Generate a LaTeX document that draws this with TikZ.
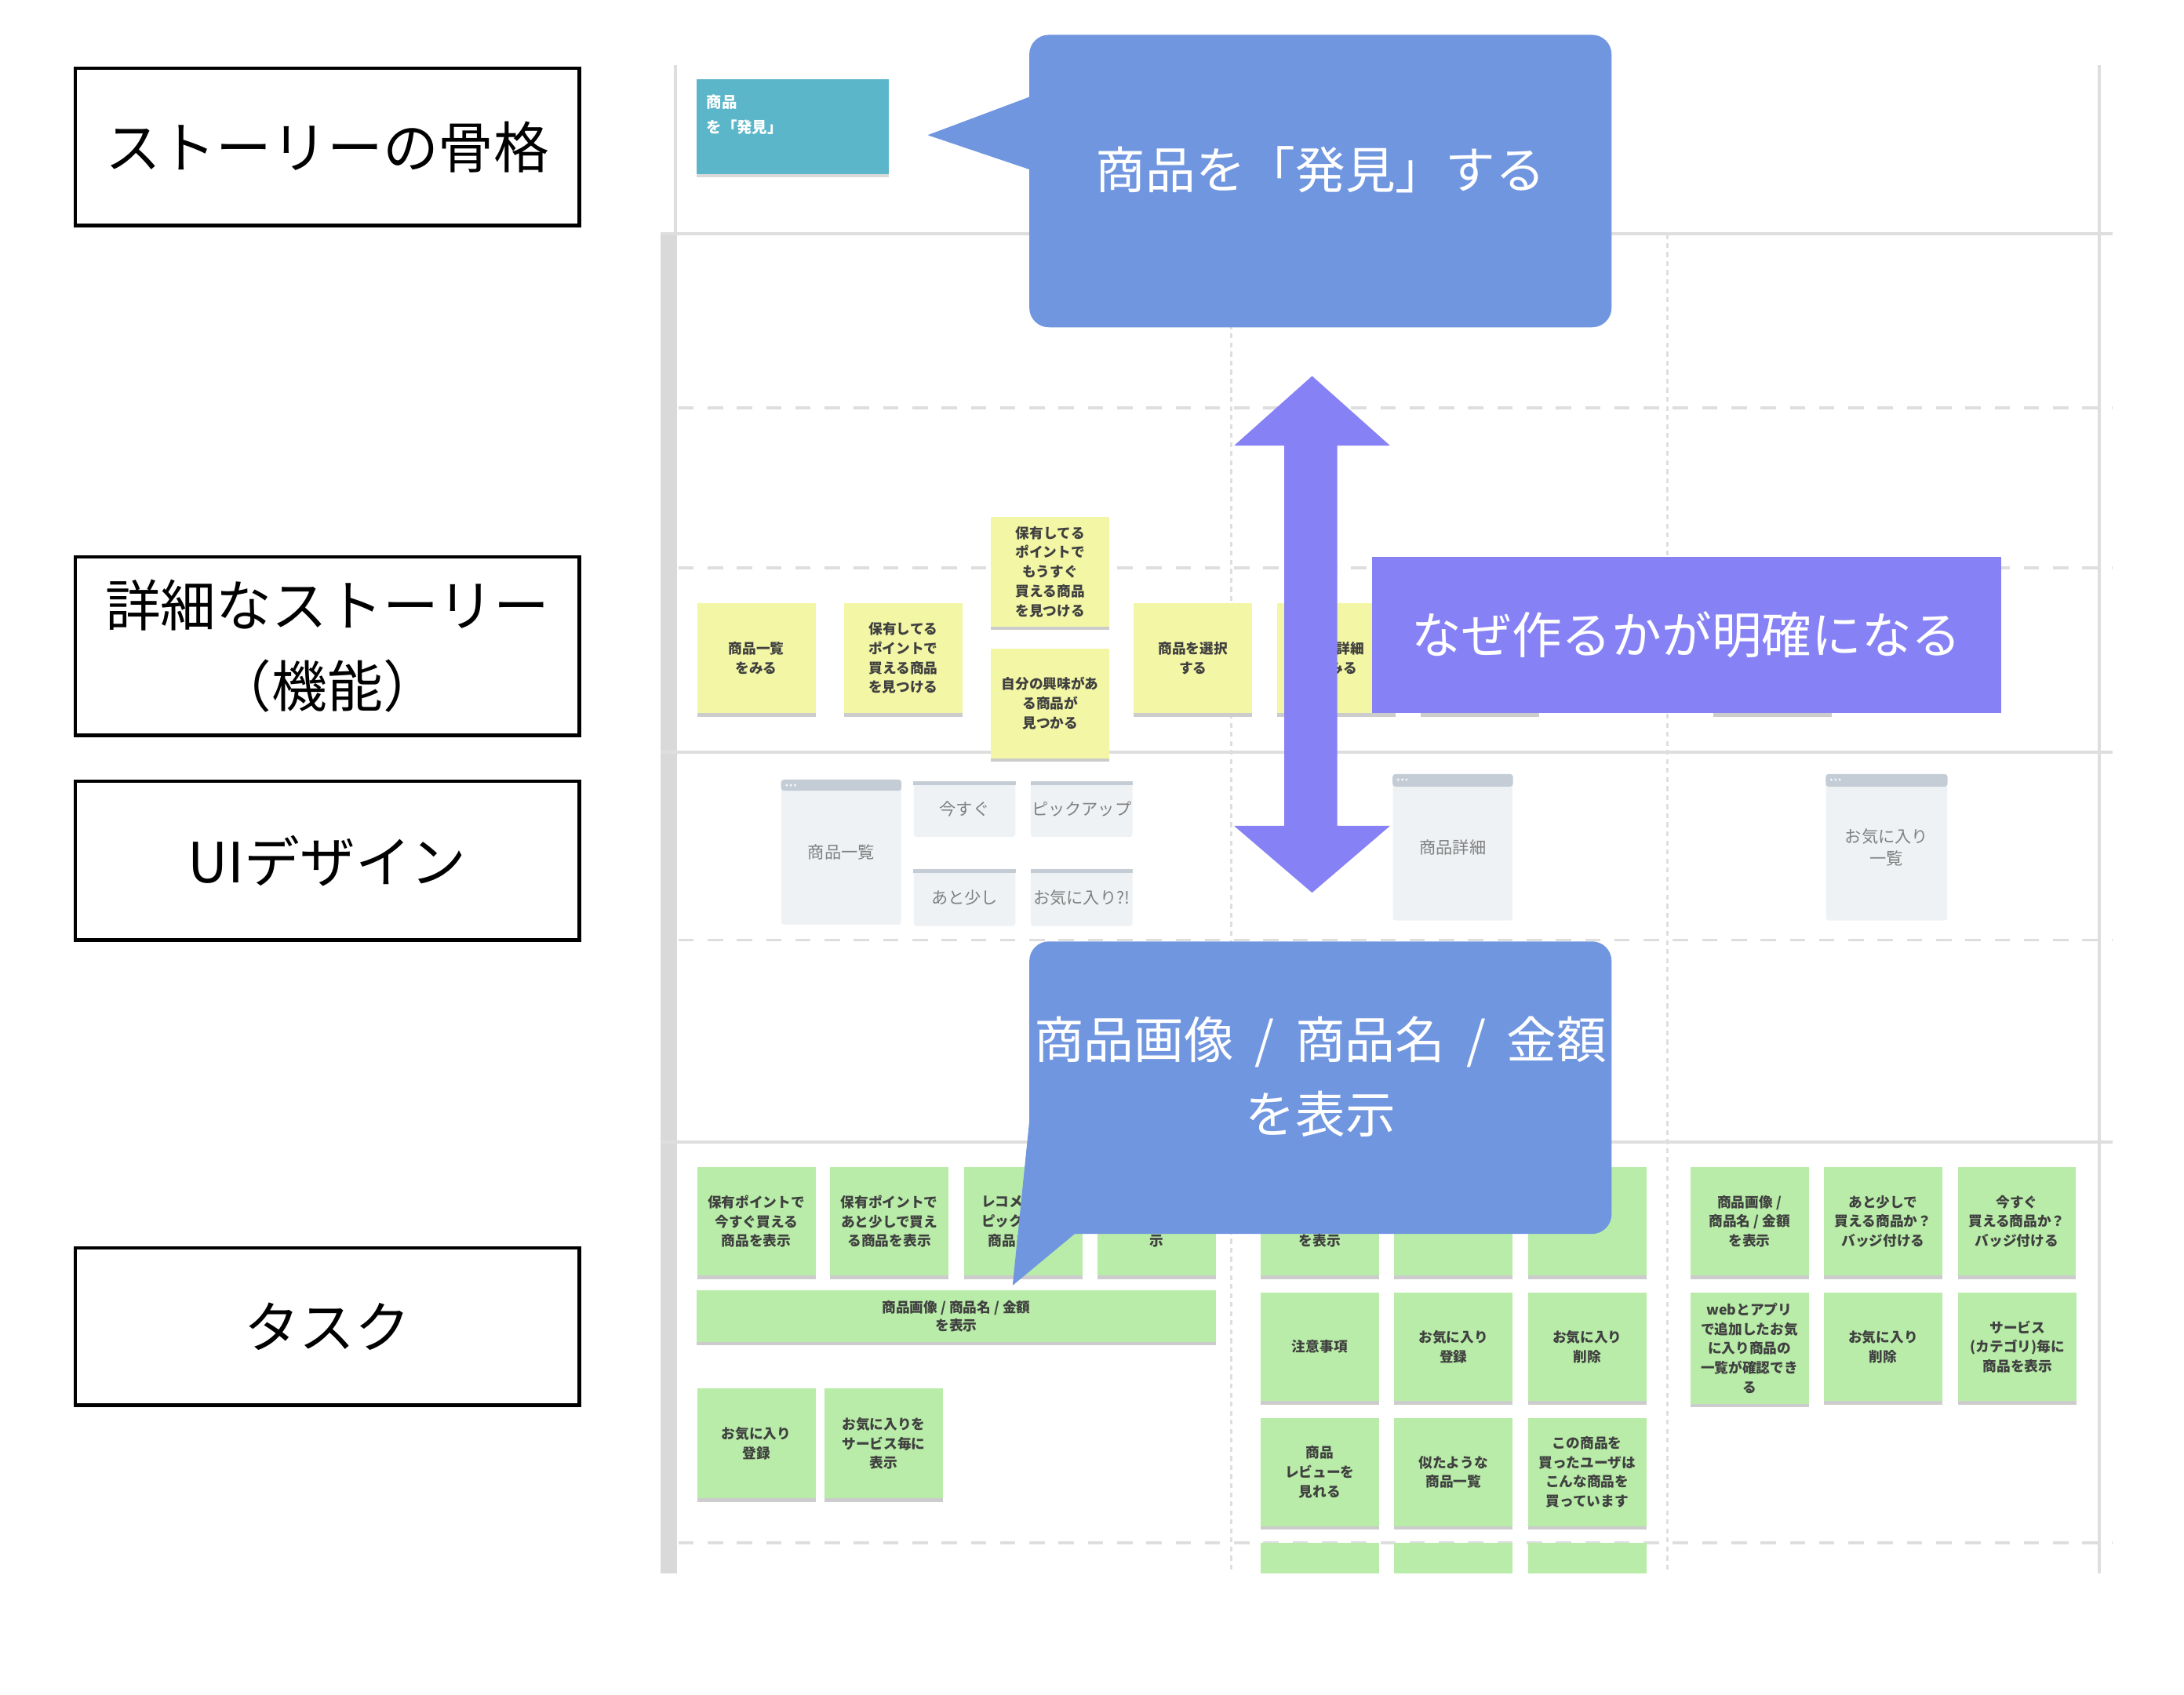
\documentclass[tikz,border=0pt]{standalone}
\usepackage{fontspec}
\setmainfont{Noto Sans CJK JP}
\usetikzlibrary{shadows}
\definecolor{cblue}{RGB}{112,150,224}
\definecolor{cpurple}{RGB}{134,130,245}
\definecolor{cteal}{RGB}{91,182,201}
\definecolor{cyellow}{RGB}{242,246,165}
\definecolor{cgreen}{RGB}{184,236,168}
\definecolor{wfill}{RGB}{239,242,245}
\definecolor{whead}{RGB}{196,205,214}
\definecolor{gridc}{RGB}{222,222,222}
\definecolor{barc}{RGB}{217,217,217}
\definecolor{stext}{RGB}{64,64,64}
\tikzset{
  labelbox/.style={draw=black, line width=2.5bp, minimum width=362bp, inner sep=0pt,
    align=center, font=\fontsize{40}{58}\selectfont},
  sticky/.style={inner sep=0pt, minimum width=85bp, minimum height=79bp, align=center,
    font=\bfseries\fontsize{10}{14}\selectfont, text=stext,
    general shadow={shadow xshift=0bp, shadow yshift=-2.5bp, fill=black!20}},
  ysticky/.style={sticky, fill=cyellow},
  gsticky/.style={sticky, fill=cgreen},
  wire/.style={fill=wfill, rounded corners=2bp, inner sep=0pt, text=black!50,
    align=center, font=\fontsize{12}{16}\selectfont},
  gridsolid/.style={draw=gridc, line width=2.2bp},
  griddash/.style={draw=gridc, line width=2.2bp, dash pattern=on 11bp off 10bp},
  griddot/.style={draw=gridc, line width=1.4bp, dash pattern=on 3.5bp off 3bp},
  calloutbox/.style={fill=cblue, rounded corners=14bp, inner sep=0pt},
  calltext/.style={text=white, align=center, font=\fontsize{36}{54}\selectfont},
  sticktext/.style={inner sep=0pt, font=\bfseries\fontsize{10}{14}\selectfont, text=stext},
}
\newcommand{\slashgap}{\hspace{0.42em}/\hspace{0.42em}}
\begin{document}
\begin{tikzpicture}[x=1bp,y=-1bp]
\useasboundingbox (0,0) rectangle (1568,1217);
\fill[white] (0,0) rectangle (1568,1217);

% ---- left labels
\node[labelbox, minimum height=113bp] (l1) at (235,105.5) {ストーリーの骨格};
\node[labelbox, minimum height=128bp] (l2) at (235,464) {詳細なストーリー\\（機能）};
\node[labelbox, minimum height=114bp] (l3) at (235,618) {UIデザイン};
\node[labelbox, minimum height=113bp] (l4) at (235,952.5) {タスク};

% ---- board grid
\draw[gridsolid] (485,47) -- (485,168);
\fill[barc] (474,168) rectangle (486,1130);
\draw[gridsolid] (1507,47) -- (1507,1130);
\foreach \yy in {168,540,820} \draw[gridsolid] (474,\yy) -- (1517,\yy);
\foreach \yy in {293,408,675,1108} \draw[griddash] (487,\yy) -- (1517,\yy);
\draw[griddot] (884,168) -- (884,1130);
\draw[griddot] (1197,168) -- (1197,1130);

% ---- backbone sticky
\node[fill=cteal, inner sep=0pt, minimum width=138bp, minimum height=68bp,
  general shadow={shadow xshift=0bp, shadow yshift=-2bp, fill=black!15}] (t1) at (569,91) {};
\node[anchor=north west, inner sep=0pt, align=left, text=white,
  font=\bfseries\fontsize{11}{18}\selectfont] (t1t) at (507,68) {商品\\を「発見」};

% ---- detailed stories (yellow)
\node[ysticky] (s1) at (543,472.5) {商品一覧\\をみる};
\node[ysticky] (s2) at (648.5,472.5) {保有してる\\ポイントで\\買える商品\\を見つける};
\node[ysticky] (s3) at (754,410.5) {保有してる\\ポイントで\\もうすぐ\\買える商品\\を見つける};
\node[ysticky] (s4) at (754,505) {自分の興味があ\\る商品が\\見つかる};
\node[ysticky] (s5) at (856.5,472.5) {商品を選択\\する};
\node[ysticky] (s6) at (959.5,472.5) {商品詳細\\をみる};
\node[ysticky] (s7) at (1062.5,472.5) {};
\node[ysticky] (s8) at (1272.5,472.5) {};

% ---- UI wireframes
\node[wire, minimum width=86bp, minimum height=104bp] (w1) at (604,612) {商品一覧};
\fill[whead, rounded corners=2bp] (w1.north west) rectangle ([yshift=-8bp]w1.north east);
\node[wire, minimum width=73bp, minimum height=40bp] (w2) at (692.5,581) {今すぐ};
\fill[whead] (w2.north west) rectangle ([yshift=-3bp]w2.north east);
\node[wire, minimum width=73bp, minimum height=40bp] (w3) at (776.5,581) {ピックアップ};
\fill[whead] (w3.north west) rectangle ([yshift=-3bp]w3.north east);
\node[wire, minimum width=73bp, minimum height=41bp] (w4) at (692.5,644.5) {あと少し};
\fill[whead] (w4.north west) rectangle ([yshift=-3bp]w4.north east);
\node[wire, minimum width=73bp, minimum height=41bp] (w5) at (776.5,644.5) {お気に入り?!};
\fill[whead] (w5.north west) rectangle ([yshift=-3bp]w5.north east);
\node[wire, minimum width=86bp, minimum height=105bp] (w6) at (1043,608.5) {商品詳細};
\fill[whead, rounded corners=2bp] (w6.north west) rectangle ([yshift=-9bp]w6.north east);
\node[wire, minimum width=87bp, minimum height=105bp] (w7) at (1354.5,608.5) {お気に入り\\一覧};
\fill[whead, rounded corners=2bp] (w7.north west) rectangle ([yshift=-9bp]w7.north east);
\foreach \nn in {w1,w6,w7}{
  \foreach \dx in {4,7,10} \fill[white!90!whead] ([xshift=\dx bp, yshift=-4bp]\nn.north west) circle (0.9bp);
}

% ---- tasks (green)
\node[gsticky, minimum height=78bp] (g1) at (543,877) {保有ポイントで\\今すぐ買える\\商品を表示};
\node[gsticky, minimum height=78bp] (g2) at (638.5,877) {保有ポイントで\\あと少しで買え\\る商品を表示};
\node[gsticky, minimum height=78bp] (g3) at (734.5,877) {レコメンド・\\ピックアップ\\商品を表示};
\node[gsticky, minimum height=78bp] (g4) at (830.5,877) {};
\node[sticktext] (g4t) at (830.5,891) {示};
\node[gsticky, minimum width=373bp, minimum height=37bp, font=\bfseries\fontsize{10}{13}\selectfont] (gw) at (686.5,945) {商品画像 / 商品名 / 金額\\を表示};
\node[gsticky] (g23) at (543,1036.5) {お気に入り\\登録};
\node[gsticky] (g24) at (634.5,1036.5) {お気に入りを\\サービス毎に\\表示};

\node[gsticky, minimum height=78bp] (g5) at (947.5,877) {};
\node[sticktext] (g5t) at (947.5,891) {を表示};
\node[gsticky, minimum height=78bp] (g6) at (1043.5,877) {};
\node[gsticky, minimum height=78bp] (g7) at (1139.5,877) {};
\node[gsticky, minimum height=78bp] (g8) at (947.5,967) {注意事項};
\node[gsticky, minimum height=78bp] (g9) at (1043.5,967) {お気に入り\\登録};
\node[gsticky, minimum height=78bp] (g10) at (1139.5,967) {お気に入り\\削除};
\node[gsticky, minimum height=78bp] (g11) at (947.5,1057) {商品\\レビューを\\見れる};
\node[gsticky, minimum height=78bp] (g12) at (1043.5,1057) {似たような\\商品一覧};
\node[gsticky, minimum height=78bp] (g13) at (1139.5,1057) {この商品を\\買ったユーザは\\こんな商品を\\買っています};
\fill[cgreen] (905,1108) rectangle (990,1130);
\fill[cgreen] (1001,1108) rectangle (1086,1130);
\fill[cgreen] (1097,1108) rectangle (1182,1130);

\node[gsticky, minimum height=78bp] (g17) at (1256,877) {商品画像 /\\商品名 / 金額\\を表示};
\node[gsticky, minimum height=78bp] (g18) at (1352,877) {あと少しで\\買える商品か？\\バッジ付ける};
\node[gsticky, minimum height=78bp] (g19) at (1448,877) {今すぐ\\買える商品か？\\バッジ付ける};
\node[gsticky, minimum height=80bp] (g20) at (1256,968) {webとアプリ\\で追加したお気\\に入り商品の\\一覧が確認でき\\る};
\node[gsticky, minimum height=78bp] (g21) at (1352,967) {お気に入り\\削除};
\node[gsticky, minimum height=78bp] (g22) at (1448.5,967) {サービス\\(カテゴリ)毎に\\商品を表示};

% ---- callout 1
\node[calloutbox, minimum width=418bp, minimum height=210bp] (c1) at (948,130) {};
\coordinate (c1tip) at (666,97);
\fill[cblue] (746,67) -- (c1tip) -- (746,124) -- cycle;
\node[calltext] (c1t) at (948,122) {商品を「発見」する};

% ---- double arrow
\coordinate (atop) at (942,270);
\coordinate (abot) at (942,641);
\fill[cpurple] (atop) -- (998,320) -- (960,320) -- (960,593) -- (998,593) -- (abot)
  -- (886,593) -- (922,593) -- (922,320) -- (886,320) -- cycle;

% ---- purple box
\node[fill=cpurple, inner sep=0pt, minimum width=452bp, minimum height=112bp] (p1) at (1211,456) {};
\node[calltext] (p1t) at (1211,456) {なぜ作るかが明確になる};

% ---- callout 2
\node[calloutbox, minimum width=418bp, minimum height=210bp] (c2) at (948,781) {};
\coordinate (c2tip) at (727,923);
\fill[cblue] (739,805) -- (c2tip) -- (780,879) -- (765,805) -- cycle;
\node[calltext] (c2t) at (948,773) {商品画像\slashgap 商品名\slashgap 金額\\を表示};
\end{tikzpicture}
\end{document}
